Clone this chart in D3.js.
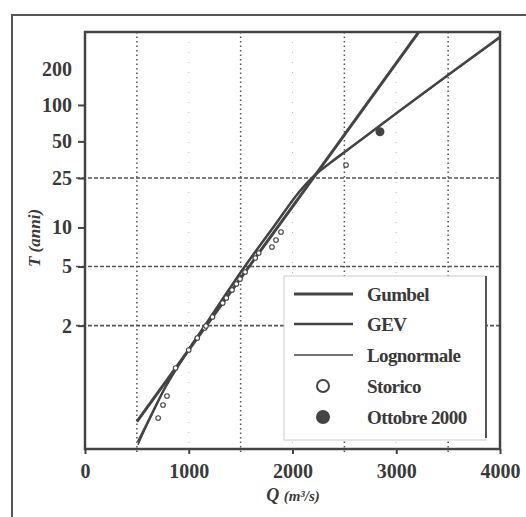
<!DOCTYPE html>
<html>
<head>
<meta charset="utf-8">
<script src="https://cdn.jsdelivr.net/npm/d3@7/dist/d3.min.js"></script>
<style>
  body { margin: 0; background: #fff; }
  svg text { font-family: "Liberation Serif", "DejaVu Serif", serif; fill: #3a3a3a; }
</style>
</head>
<body>
<div id="chart"></div>
<script>
// axis ticks
const qTicks = [0, 1000, 2000, 3000, 4000];
const tTicks = [2, 5, 10, 25, 50, 100, 200];
const tGrid = [2, 5, 25];
const qGridMajor = [500, 1500, 2500, 3500];
const qGridMinor = [1000, 2000, 3000];

// fitted curves (Q in m3/s, T in anni)
const gumbelQ = [500, 2000, 3400];
const gumbelT = [1.0129, 14.69, 667.6];
const gevQ = [510, 625, 770, 965, 1205, 1523, 1831, 2072, 2217, 2362, 2516, 3017, 3499, 4000];
const gevT = [1.00157, 1.01725, 1.1124, 1.4205, 2.22, 4.797, 10.457, 19.6, 26.46, 33.18, 41.6, 87.45, 177.3, 367];
const logQ = [510, 625, 770, 965, 1205, 1523, 1831, 2072, 2217, 2362, 2516, 3017, 3499, 4000];
const logT = [1.00107, 1.0165, 1.1124, 1.4205, 2.22, 4.797, 10.457, 19.6, 26.46, 33.18, 41.6, 87.0, 176.0, 362];

// observed
const storicoQ = [705, 752, 790, 873, 1000, 1082, 1153, 1166, 1229, 1327, 1362, 1417, 1459, 1494, 1543, 1641, 1675, 1802, 1841, 1889, 2516];
const storicoT = [1.01725, 1.0435, 1.0742, 1.2654, 1.4946, 1.7105, 1.9388, 1.9905, 2.2517, 2.7652, 2.9859, 3.388, 3.7332, 4.0535, 4.5581, 5.7975, 6.3275, 7.035, 7.971, 9.207, 31.96];
const ottobreQ = [2843];
const ottobreT = [60];

const legendItems = ["Gumbel", "GEV", "Lognormale", "Storico", "Ottobre 2000"];

const W = 526, H = 517;
const plot = {left: 85, top: 32, right: 500, bottom: 449};
const ink = "#444";

const svg = d3.select("#chart").append("svg").attr("width", W).attr("height", H);

// gumbel reduced variate
const rv = T => -Math.log(-Math.log(1 - 1 / T));

const x = d3.scaleLinear().domain([0, 4000]).range([plot.left, plot.right]);
const y = d3.scaleLinear().domain([-2, 6]).range([plot.bottom, plot.top]);

// outer frame (top + left)
svg.append("path")
    .attr("d", `M12,${H} L12,15 L${W},15`)
    .attr("fill", "none").attr("stroke", "#555").attr("stroke-width", 2);

// grid
svg.append("g").selectAll("line").data(qGridMinor).join("line")
    .attr("x1", d => x(d)).attr("x2", d => x(d))
    .attr("y1", plot.top).attr("y2", plot.bottom + 5)
    .attr("stroke", "#bbb").attr("stroke-width", 1).attr("stroke-dasharray", "1,9");
svg.append("g").selectAll("line").data(qGridMajor).join("line")
    .attr("x1", d => x(d)).attr("x2", d => x(d))
    .attr("y1", plot.top).attr("y2", plot.bottom + 5)
    .attr("stroke", "#555").attr("stroke-width", 1.5).attr("stroke-dasharray", "1.5,3");
svg.append("g").selectAll("line").data(tGrid).join("line")
    .attr("x1", plot.left - 9).attr("x2", plot.right)
    .attr("y1", d => y(rv(d))).attr("y2", d => y(rv(d)))
    .attr("stroke", "#555").attr("stroke-width", 1.6).attr("stroke-dasharray", "4,2");

// axes
const xAxis = svg.append("g").attr("transform", `translate(0,${plot.bottom})`)
    .call(d3.axisBottom(x).tickValues(qTicks).tickSize(5).tickPadding(10).tickFormat(d3.format("d")));
const yAxis = svg.append("g").attr("transform", `translate(${plot.left},0)`)
    .call(d3.axisLeft(y).tickValues(tTicks.map(rv)).tickSize(7).tickPadding(6)
        .tickFormat((d, i) => tTicks[i]));
[xAxis, yAxis].forEach(a => {
  a.select(".domain").remove();
  a.selectAll("line").attr("stroke", ink).attr("stroke-width", 2);
  a.selectAll("text").attr("font-size", 20).attr("font-weight", "bold").attr("fill", "#3a3a3a");
});
yAxis.selectAll(".tick").filter((d, i) => tTicks[i] === 200).select("line").remove();

// plot frame
svg.append("rect")
    .attr("x", plot.left).attr("y", plot.top)
    .attr("width", plot.right - plot.left).attr("height", plot.bottom - plot.top)
    .attr("fill", "none").attr("stroke", ink).attr("stroke-width", 2.5);

svg.append("clipPath").attr("id", "clip").append("rect")
    .attr("x", plot.left).attr("y", plot.top)
    .attr("width", plot.right - plot.left).attr("height", plot.bottom - plot.top);

const line = d3.line().x(d => x(d[0])).y(d => y(rv(d[1])));
const lines = svg.append("g").attr("clip-path", "url(#clip)");
lines.append("path").datum(d3.zip(logQ, logT)).attr("d", line.curve(d3.curveMonotoneX))
    .attr("fill", "none").attr("stroke", ink).attr("stroke-width", 1.5);
lines.append("path").datum(d3.zip(gevQ, gevT)).attr("d", line.curve(d3.curveMonotoneX))
    .attr("fill", "none").attr("stroke", ink).attr("stroke-width", 2.5);
lines.append("path").datum(d3.zip(gumbelQ, gumbelT)).attr("d", line.curve(d3.curveLinear))
    .attr("fill", "none").attr("stroke", ink).attr("stroke-width", 3);

// observations
svg.append("g").selectAll("circle").data(d3.zip(storicoQ, storicoT)).join("circle")
    .attr("cx", d => x(d[0])).attr("cy", d => y(rv(d[1]))).attr("r", 2.3)
    .attr("fill", "#fff").attr("stroke", ink).attr("stroke-width", 1.1);
svg.append("g").selectAll("circle").data(d3.zip(ottobreQ, ottobreT)).join("circle")
    .attr("cx", d => x(d[0])).attr("cy", d => y(rv(d[1]))).attr("r", 4.5)
    .attr("fill", ink);

// axis titles
svg.append("text").attr("transform", "translate(40,238) rotate(-90)")
    .attr("text-anchor", "middle").attr("font-size", 17).attr("font-style", "italic").attr("font-weight", "bold")
    .text("T (anni)");
const qt = svg.append("text").attr("x", 293).attr("y", 501)
    .attr("text-anchor", "middle").attr("font-size", 18).attr("font-style", "italic").attr("font-weight", "bold");
qt.append("tspan").text("Q ");
qt.append("tspan").attr("font-size", 15).text("(m³/s)");

// legend
const leg = svg.append("g");
leg.append("rect").attr("x", 284).attr("y", 276).attr("width", 202).attr("height", 164)
    .attr("fill", "#fff").attr("stroke", "#ccc").attr("stroke-width", 1);
leg.append("line").attr("x1", 486).attr("x2", 486).attr("y1", 276).attr("y2", 438)
    .attr("stroke", "#555").attr("stroke-width", 2);
const rowY = [294, 324, 355, 386, 417];
const widths = [3, 2.5, 1.5];
legendItems.forEach((name, i) => {
  if (i < 3) {
    leg.append("line").attr("x1", 294).attr("x2", 353).attr("y1", rowY[i]).attr("y2", rowY[i])
        .attr("stroke", ink).attr("stroke-width", widths[i]);
  } else {
    leg.append("circle").attr("cx", 323).attr("cy", rowY[i]).attr("r", 6)
        .attr("fill", i === 3 ? "#fff" : ink).attr("stroke", ink).attr("stroke-width", 2);
  }
  leg.append("text").attr("x", 367).attr("y", rowY[i] + 7)
      .attr("font-size", 19).attr("font-weight", "bold").attr("letter-spacing", -0.6).text(name);
});
</script>
</body>
</html>
